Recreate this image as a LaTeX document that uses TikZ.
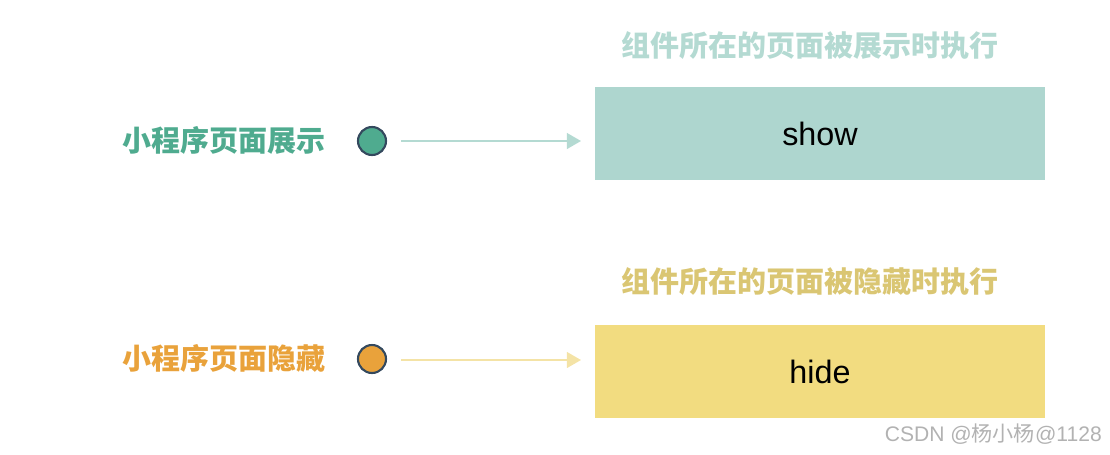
\documentclass[tikz,border=0pt]{standalone}
\usepackage{fontspec}
\setmainfont{Liberation Sans}
\newfontfamily\cjk{Noto Sans CJK SC}
\usetikzlibrary{arrows.meta}
\definecolor{vert}{HTML}{4FAB8F}
\definecolor{vertclair}{HTML}{AED6CF}
\definecolor{vertpale}{HTML}{B4DAD2}
\definecolor{orange}{HTML}{E9A23B}
\definecolor{jaune}{HTML}{F2DC80}
\definecolor{jaunepale}{HTML}{F4E3A6}
\definecolor{ardoise}{HTML}{34495E}
\newcommand{\etiq}[4]{\node[etiq,text=#4] (#1) at (224,#2) {#3}}
\newcommand{\boite}[4]{\node[boite,fill=#4] (#1) at (820,#2) {#3}}
\newcommand{\point}[3]{\node[point,fill=#3] (#1) at (372,#2) {}}

\begin{document}
\begin{tikzpicture}[x=0.02cm,y=-0.02cm,
	etiq/.style={font=\cjk\bfseries\fontsize{16.5}{20}\selectfont},
	titre/.style={font=\cjk\bfseries\fontsize{16.5}{20}\selectfont},
	boite/.style={minimum width=9cm,minimum height=1.86cm,inner sep=0pt,font=\fontsize{18.4}{22}\selectfont},
	point/.style={circle,draw=ardoise,line width=1.2pt,minimum size=0.56cm,inner sep=0pt},
	fleche/.style={-{Triangle[length=8pt,width=9pt]},line width=0.9pt}]
	\useasboundingbox (0,0) rectangle (1110,454);
	% montrer
	\etiq{lshow}{140}{小程序页面展示}{vert};
	\point{cshow}{141}{vert};
	\boite{bshow}{133.5}{show}{vertclair};
	\node[titre,text=vertpale] (tshow) at (810,46) {组件所在的页面被展示时执行};
	\coordinate (ashow) at (401,141);
	\coordinate (fshow) at (581,141);
	\draw[fleche,vertpale] (ashow) -- (fshow);
	% cacher
	\etiq{lhide}{358}{小程序页面隐藏}{orange};
	\point{chide}{359}{orange};
	\boite{bhide}{371.5}{hide}{jaune};
	\node[titre,text=jaune!90!black] (thide) at (810,282) {组件所在的页面被隐藏时执行};
	\coordinate (ahide) at (401,360);
	\coordinate (fhide) at (581,360);
	\draw[fleche,jaunepale] (ahide) -- (fhide);
	% filigrane
	\node[text=black!30,font=\fontsize{12}{14}\selectfont,anchor=east] (marque) at (1108,434) {CSDN @{\cjk 杨小杨}@1128};
\end{tikzpicture}
\end{document}
